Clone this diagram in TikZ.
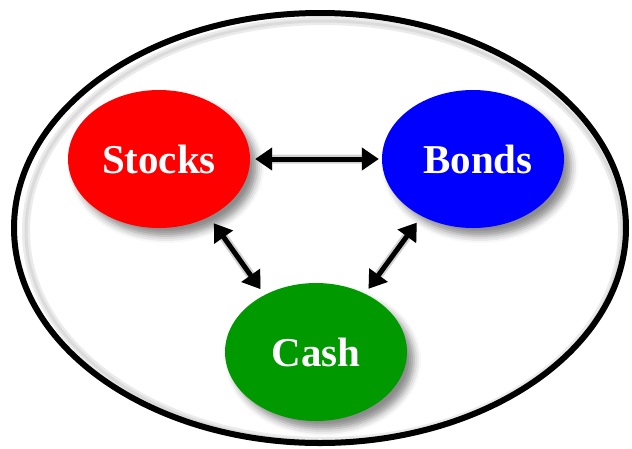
\documentclass[tikz,border=0pt]{standalone}
\usepackage{fontspec}
\setmainfont{Liberation Serif}
\usetikzlibrary{shapes.geometric,arrows.meta,shadows.blur}

\definecolor{stockred}{RGB}{255,0,0}
\definecolor{bondblue}{RGB}{0,0,255}
\definecolor{cashgreen}{RGB}{0,153,0}

\begin{document}
\begin{tikzpicture}[x=1pt, y=-1pt,
  asset/.style={ellipse, minimum width=182pt, minimum height=138pt, inner sep=0pt,
    text=white, font=\fontsize{41}{41}\selectfont\bfseries,
    blur shadow={shadow xshift=7pt, shadow yshift=-8pt, shadow blur radius=7pt, shadow opacity=45}},
  link/.style={{Triangle[length=17pt,width=22pt]}-{Triangle[length=17pt,width=22pt]},
    line width=5pt, black},
  linkshadow/.style={link, line width=9pt}]
  \useasboundingbox (0,0) rectangle (632,448);

  % outer ring with its soft shadow
  \draw[black!8, line width=8pt] (324,231) ellipse (298pt and 210pt);
  \draw[black!14, line width=3pt] (324,231) ellipse (298pt and 210pt);
  \draw[black, line width=6pt] (320,228) ellipse (306pt and 215pt);

  % the three asset classes
  \node[asset, fill=stockred] (stocks) at (159,159) {Stocks};
  \node[asset, fill=bondblue] (bonds) at (473,159) {\hspace*{10pt}Bonds};
  \node[asset, fill=cashgreen] (cash) at (316,352) {Cash};

  % shadows of the links
  \begin{scope}[transparency group, opacity=0.18, shift={(9pt,-11pt)}]
    \draw[linkshadow, shorten <=5pt, shorten >=3pt] (stocks) -- (bonds);
    \draw[linkshadow, shorten <=8pt, shorten >=7pt] (stocks.-49) -- (cash.132);
    \draw[linkshadow, shorten <=8pt, shorten >=6pt] (bonds.228) -- (cash.50);
  \end{scope}

  % links between them
  \draw[link, shorten <=5pt, shorten >=3pt] (stocks) -- (bonds);
  \draw[link, shorten <=8pt, shorten >=7pt] (stocks.-49) -- (cash.132);
  \draw[link, shorten <=8pt, shorten >=6pt] (bonds.228) -- (cash.50);
\end{tikzpicture}
\end{document}
